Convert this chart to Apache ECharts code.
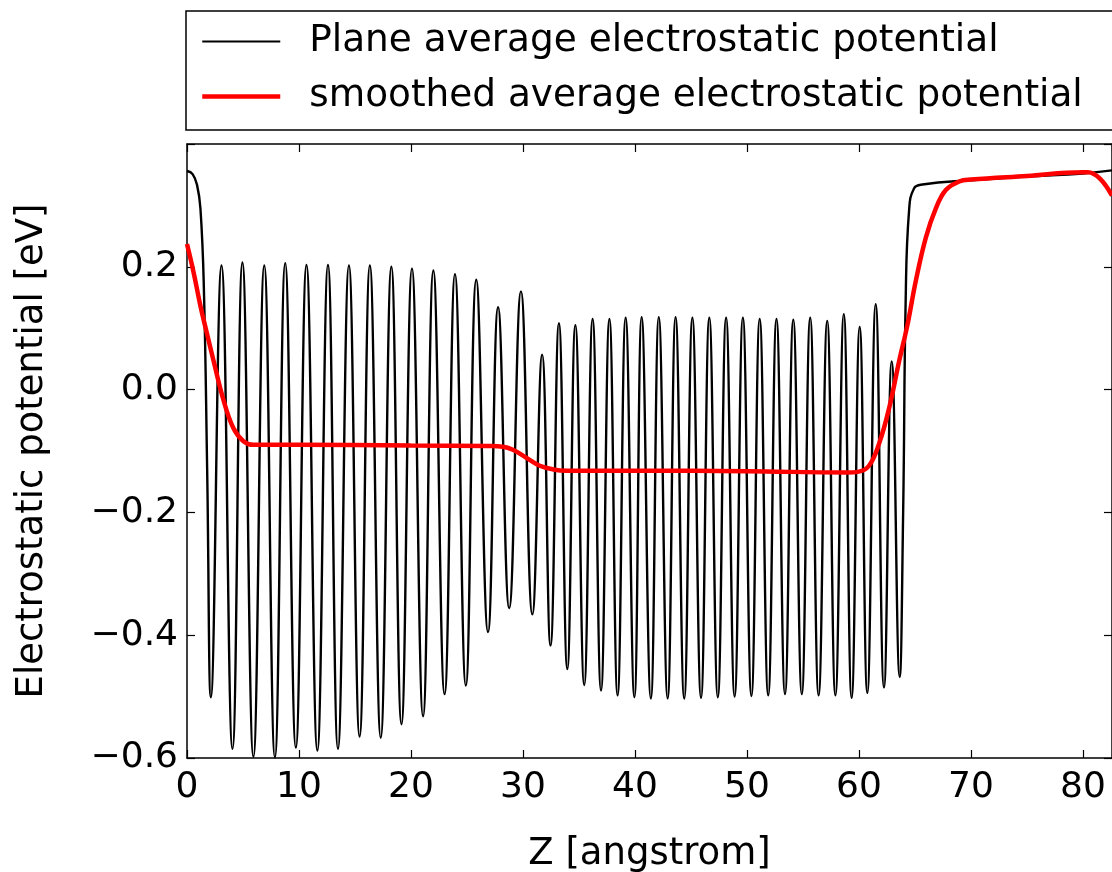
<!DOCTYPE html>
<html>
<head>
<meta charset="utf-8">
<script src="https://cdn.jsdelivr.net/npm/echarts@6/dist/echarts.min.js"></script>
<style>
  html, body { margin: 0; padding: 0; background: #ffffff; }
  #chart { width: 1112px; height: 872px; }
</style>
</head>
<body>
<div id="chart"></div>
<script>
// Plane-averaged potential: turning points of the oscillation along z (angstrom) and eV values
const planeZ = [0, 0.5, 0.9, 1.2, 1.5, 1.8, 2.13, 3.08, 4.06, 4.95, 5.93, 6.90, 7.85, 8.77, 9.72,
  10.67, 11.64, 12.59, 13.48, 14.46, 15.41, 16.33, 17.30, 18.25, 19.15, 20.09, 21.08, 22.00,
  23.00, 23.93, 24.90, 25.83, 26.88, 27.78, 28.77, 29.82, 30.84, 31.71, 32.46, 33.21, 33.96,
  34.68, 35.47, 36.22, 36.97, 37.72, 38.45, 39.17, 39.95, 40.60, 41.42, 42.13, 42.92, 43.63,
  44.40, 45.13, 45.90, 46.64, 47.40, 48.14, 48.90, 49.64, 50.40, 51.14, 51.90, 52.64, 53.40,
  54.14, 54.90, 55.65, 56.40, 57.17, 57.90, 58.65, 59.35, 60.07, 60.75, 61.50, 62.24, 62.93,
  63.64, 63.95, 64.18, 64.48, 64.93, 65.67, 70, 75, 80, 82.6];
const planeV = [0.356, 0.351, 0.333, 0.295, 0.17, -0.13, -0.501, 0.202, -0.585, 0.207, -0.598,
  0.202, -0.599, 0.206, -0.583, 0.203, -0.588, 0.203, -0.585, 0.202, -0.565, 0.202, -0.567,
  0.200, -0.545, 0.197, -0.532, 0.194, -0.496, 0.188, -0.482, 0.179, -0.395, 0.134, -0.356,
  0.160, -0.366, 0.057, -0.417, 0.108, -0.455, 0.105, -0.481, 0.115, -0.490, 0.115, -0.498,
  0.117, -0.501, 0.118, -0.503, 0.118, -0.503, 0.118, -0.503, 0.117, -0.502, 0.117, -0.501,
  0.117, -0.500, 0.117, -0.499, 0.115, -0.498, 0.115, -0.496, 0.114, -0.496, 0.117, -0.498,
  0.112, -0.498, 0.123, -0.502, 0.102, -0.494, 0.139, -0.485, 0.046, -0.468, -0.2, 0.15,
  0.292, 0.328, 0.334, 0.341, 0.347, 0.352, 0.357];

// Smoothed (macroscopic) average potential
const smoothZ = [0, 0.6, 1.19, 1.8, 2.37, 3.26, 4.15, 5.04, 5.93, 10, 20, 27, 28.2, 29.1, 30.3,
  31.5, 32.7, 33.9, 40, 50, 59, 59.9, 60.9, 61.8, 62.7, 63.6, 64.33, 65.07, 65.97, 66.87,
  67.76, 68.96, 70, 75, 80, 80.45, 81.5, 82.6];
const smoothV = [0.237, 0.19, 0.137, 0.09, 0.047, -0.017, -0.063, -0.084, -0.090, -0.090,
  -0.091, -0.092, -0.093, -0.098, -0.111, -0.124, -0.130, -0.132, -0.132, -0.133, -0.135,
  -0.134, -0.124, -0.088, -0.03, 0.047, 0.105, 0.176, 0.247, 0.295, 0.325, 0.339, 0.342,
  0.348, 0.354, 0.354, 0.344, 0.316];

const seriesNames = ['Plane average electrostatic potential', 'smoothed average electrostatic potential'];
const xName = 'Z [angstrom]';
const yName = 'Electrostatic potential [eV]';

const FONT = 'DejaVu Sans';
const X_MIN = 0, X_MAX = 82.6, X_STEP = 10;
const Y_MIN = -0.6, Y_MAX = 0.4, Y_STEP = 0.2;

const PLANE_W = 2.4, SMOOTH_W = 4.5;

const pairs = (xs, ys) => xs.map((x, i) => [x, ys[i]]);
const fmtY = v => (v > Y_MAX - 1e-6 ? '' : v.toFixed(1).replace('-', '\u2212'));

const spine = { show: true, onZero: false, lineStyle: { color: '#000', width: 1.5 } };
const tickIn = { show: true, inside: true, length: 8, lineStyle: { color: '#000', width: 1.2 } };
const labelStyle = { color: '#000', fontFamily: FONT, fontSize: 36 };

const chart = echarts.init(document.getElementById('chart'), null, { renderer: 'canvas' });
chart.setOption({
  animation: false,
  backgroundColor: '#ffffff',
  grid: { left: 187, top: 144, width: 925, height: 614, outerBoundsMode: 'none', containLabel: false },
  legend: {
    orient: 'vertical',
    left: 186, top: 11,
    padding: [12, 120, 15, 14],
    itemWidth: 78, itemHeight: 20, itemGap: 18,
    borderColor: '#000', borderWidth: 1.5, borderRadius: 0,
    backgroundColor: '#ffffff',
    selectedMode: false,
    itemStyle: { opacity: 0 },
    textStyle: { color: '#000', fontFamily: FONT, fontSize: 37.4, lineHeight: 37, padding: [0, 0, 0, 24] },
    data: [
      { name: seriesNames[0], itemStyle: { opacity: 0 }, lineStyle: { color: '#000000', width: 2 } },
      { name: seriesNames[1], itemStyle: { opacity: 0 }, lineStyle: { color: '#ff0000', width: SMOOTH_W } }
    ]
  },
  xAxis: [
    {
      type: 'value', position: 'bottom', min: X_MIN, max: X_MAX, interval: X_STEP,
      axisLine: spine, axisTick: tickIn, splitLine: { show: false },
      axisLabel: Object.assign({ margin: 12, showMaxLabel: false }, labelStyle),
      name: xName, nameLocation: 'middle', nameGap: 78,
      nameTextStyle: { color: '#000', fontFamily: FONT, fontSize: 37 }
    },
    {
      type: 'value', position: 'top', min: X_MIN, max: X_MAX, interval: X_STEP,
      axisLine: spine, axisTick: tickIn, splitLine: { show: false },
      axisLabel: { show: false }
    }
  ],
  yAxis: [
    {
      type: 'value', position: 'left', min: Y_MIN, max: Y_MAX, interval: Y_STEP,
      axisLine: spine, axisTick: tickIn, splitLine: { show: false },
      axisLabel: Object.assign({ margin: 9, formatter: fmtY }, labelStyle),
      name: yName, nameLocation: 'middle', nameGap: 136, nameRotate: 90,
      nameTextStyle: { color: '#000', fontFamily: FONT, fontSize: 37 }
    },
    {
      type: 'value', position: 'right', min: Y_MIN, max: Y_MAX, interval: Y_STEP,
      axisLine: spine, axisTick: tickIn, splitLine: { show: false },
      axisLabel: { show: false }
    }
  ],
  series: [
    {
      name: seriesNames[0], type: 'line', data: pairs(planeZ, planeV),
      smooth: 0.45, symbol: 'none',
      lineStyle: { color: '#000000', width: PLANE_W }, itemStyle: { color: '#000000' }, z: 2
    },
    {
      name: seriesNames[1], type: 'line', data: pairs(smoothZ, smoothV),
      smooth: 0.4, symbol: 'none',
      lineStyle: { color: '#ff0000', width: SMOOTH_W }, itemStyle: { color: '#ff0000' }, z: 3
    }
  ]
});
</script>
</body>
</html>
